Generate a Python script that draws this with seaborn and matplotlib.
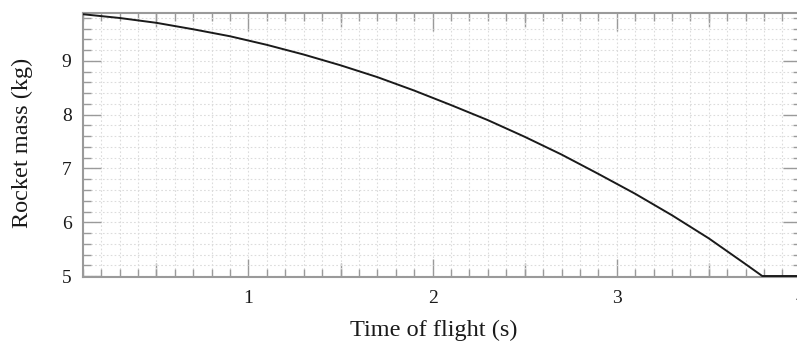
import numpy as np
import pandas as pd
import matplotlib
matplotlib.use("Agg")
import matplotlib.pyplot as plt
from matplotlib.ticker import MultipleLocator, FixedLocator, NullFormatter, FormatStrFormatter
import seaborn as sns

# Data
time_s = [0.1, 0.3, 0.5, 0.7, 0.9, 1.1, 1.3, 1.5, 1.7, 1.9, 2.1, 2.3, 2.5,
          2.7, 2.9, 3.1, 3.3, 3.5, 3.7, 3.79, 4.0]
mass_kg = [9.87, 9.80, 9.71, 9.59, 9.46, 9.30, 9.12, 8.92, 8.70, 8.45, 8.18,
           7.90, 7.59, 7.26, 6.90, 6.53, 6.13, 5.70, 5.22, 5.0, 5.0]
x_major = [1, 2, 3, 4]
x_mid = [0.5, 1.5, 2.5, 3.5]
y_major = [5, 6, 7, 8, 9]

df = pd.DataFrame({"t": time_s, "m": mass_kg})

sns.set_theme(style="white")
plt.rcParams["font.family"] = ["Liberation Serif", "DejaVu Serif"]

fig = plt.figure(figsize=(7.97, 3.52), dpi=100)
ax = fig.add_axes([82.7 / 797, 1 - 277.3 / 352, (800.9 - 82.7) / 797, 264 / 352])
ax.set_facecolor("white")

sns.lineplot(data=df, x="t", y="m", ax=ax, color="#1a1a1a", linewidth=1.4, zorder=5)

ax.set_xlim(0.1, 4.0)
ax.set_ylim(4.976, 9.887)

axis_gray = "#9a9a9a"
for side in ["left", "bottom", "top", "right"]:
    ax.spines[side].set_visible(True)
    ax.spines[side].set_color(axis_gray)
    ax.spines[side].set_linewidth(1.5)

ax.xaxis.set_major_locator(FixedLocator(x_major))
ax.xaxis.set_major_formatter(FormatStrFormatter("%d"))
ax.xaxis.set_minor_locator(MultipleLocator(0.1))
ax.yaxis.set_major_locator(FixedLocator(y_major))
ax.yaxis.set_major_formatter(FormatStrFormatter("%d"))
ax.yaxis.set_minor_locator(MultipleLocator(0.2))

ax.tick_params(axis="both", which="major", direction="in", length=13, width=1.0,
               color=axis_gray, labelsize=14, labelcolor="#1a1a1a")
ax.tick_params(axis="both", which="minor", direction="in", length=6, width=1.0,
               color=axis_gray)
ax.tick_params(axis="x", which="both", top=True, bottom=True, pad=9)
ax.tick_params(axis="y", which="both", left=True, right=True, pad=8)
ax.tick_params(axis="x", which="major", top=True, labeltop=False)

# mid-length ticks at half units on bottom and top
for loc in ["bottom", "top"]:
    sec = ax.secondary_xaxis(loc)
    sec.set_xticks(x_mid)
    sec.xaxis.set_major_formatter(NullFormatter())
    sec.tick_params(direction="in", length=10, width=1.0, color=axis_gray)
    sec.spines[loc].set_visible(False)

ax.grid(True, which="both", color="#dcdcdc", linestyle=(0, (1.5, 2.0)), linewidth=0.8)
ax.set_axisbelow(True)

ax.set_xlabel("Time of flight (s)", fontsize=17.5, color="#1a1a1a")
ax.set_ylabel("Rocket mass (kg)", fontsize=17.5, color="#1a1a1a")
ax.xaxis.label.set_va("center")
ax.yaxis.label.set_va("center")
ax.yaxis.label.set_ha("center")
ax.xaxis.set_label_coords(0.489, (277.3 - 330) / 264)
ax.yaxis.set_label_coords((22 - 82.7) / 718.2, (277.3 - 143) / 264)

fig.savefig("out.png", dpi=100, facecolor="white")
